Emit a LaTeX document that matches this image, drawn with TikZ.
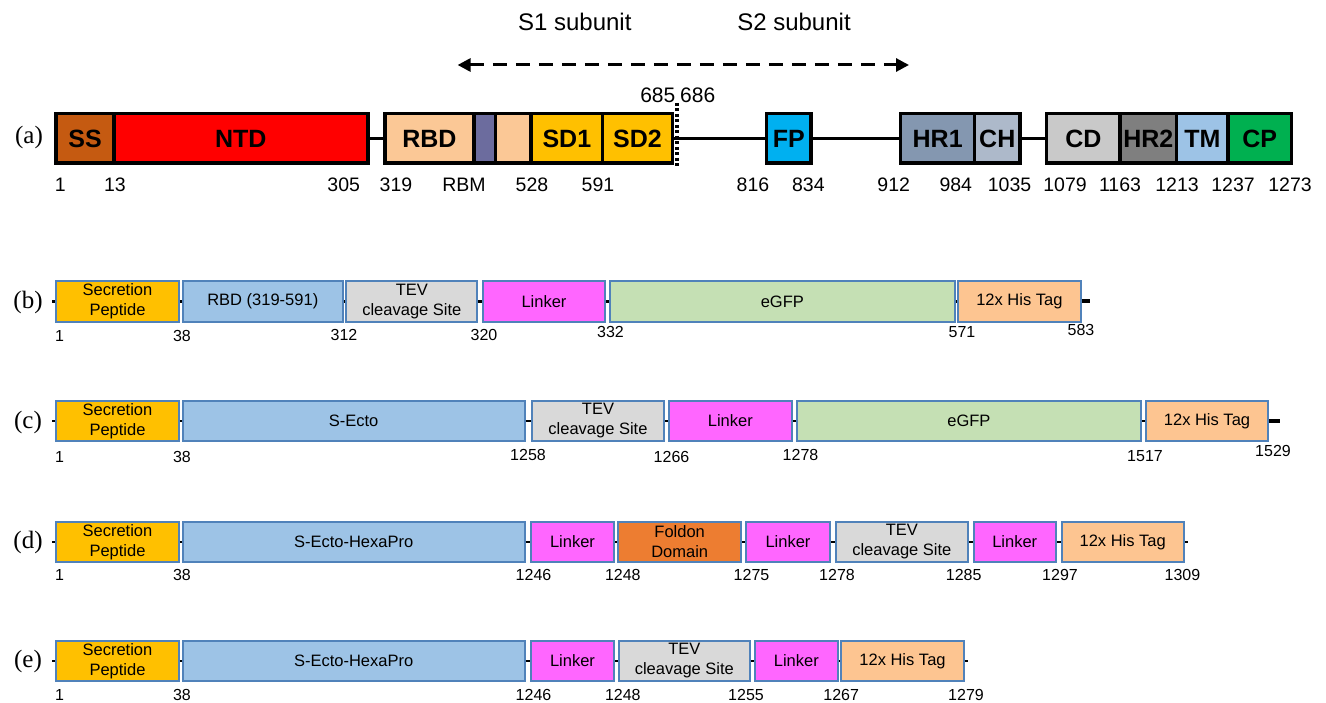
\documentclass[tikz,border=0pt]{standalone}
\usepackage{fontspec}
\setmainfont{Liberation Sans}
\newfontfamily\serifx{Liberation Serif}
\usetikzlibrary{arrows.meta}
\definecolor{cSS}{HTML}{C55A11}
\definecolor{cNTD}{HTML}{FF0000}
\definecolor{cRBD}{HTML}{FBC896}
\definecolor{cRBM}{HTML}{6C6C9E}
\definecolor{cSD}{HTML}{FFC000}
\definecolor{cFP}{HTML}{00B0F0}
\definecolor{cHRa}{HTML}{8497B0}
\definecolor{cCH}{HTML}{ADB9CA}
\definecolor{cCD}{HTML}{C9C9C9}
\definecolor{cHRb}{HTML}{7F7F7F}
\definecolor{cTM}{HTML}{9DC3E6}
\definecolor{cCP}{HTML}{00B050}
\definecolor{cSec}{HTML}{FFC000}
\definecolor{cEcto}{HTML}{9DC3E6}
\definecolor{cTEV}{HTML}{D9D9D9}
\definecolor{cLink}{HTML}{FF66FF}
\definecolor{cGFP}{HTML}{C5E0B4}
\definecolor{cHis}{HTML}{FDC591}
\definecolor{cFold}{HTML}{ED7D31}
\definecolor{cBord}{HTML}{5082BA}
\newcommand\dom[7]{\node[#6, minimum width={#3-#2}, minimum height={#5-#4}] (#1) at ({(#2+#3)/2},{(#4+#5)/2}) {#7};}
\newcommand\numl[4]{\node[numstyle] (#1) at (#2,#3) {#4};}
\newcommand\numa[4]{\node[numastyle] (#1) at (#2,#3) {#4};}
\begin{document}
\begin{tikzpicture}[x=1pt,y=-1pt,
  da/.style={draw=black,line width=3.5,inner sep=0pt,font=\fontsize{25}{26}\selectfont\bfseries},
  db/.style={draw=cBord,line width=2,inner sep=0pt,align=center,font=\fontsize{16.5}{20}\selectfont},
  conna/.style={draw=black,line width=3.5},
  connb/.style={draw=black,line width=2.5},
  stub/.style={draw=black,line width=4},
  dotline/.style={draw=black,line width=3.5,dash pattern=on 3pt off 2.5pt},
  dasharrow/.style={draw=black,line width=3,dash pattern=on 14pt off 9pt,{Triangle[length=13pt,width=13pt]}-{Triangle[length=13pt,width=13pt]}},
  numastyle/.style={inner sep=0pt,font=\fontsize{19.5}{20}\selectfont},
  numstyle/.style={inner sep=0pt,font=\fontsize{16}{17}\selectfont},
  rowlab/.style={inner sep=0pt,font=\serifx\fontsize{25}{26}\selectfont},
  sublab/.style={inner sep=0pt,font=\fontsize{24}{25}\selectfont}]
\useasboundingbox (0,0) rectangle (1326,703);
% ---------- row (a)
\node[rowlab] (la) at (29,137) {(a)};
\node[sublab] (s1) at (574.8,22) {S1 subunit};
\node[sublab] (s2) at (794,22) {S2 subunit};
\coordinate (al) at (457.6,65);
\coordinate (ar) at (909,65);
\draw[dasharrow] (al) -- (ar);
\dom{ss}{56.2}{113.8}{113.75}{163.25}{da,fill=cSS}{SS}
\dom{ntd}{113.8}{367.9}{113.75}{163.25}{da,fill=cNTD}{NTD}
\dom{rbd}{384.8}{474}{113.75}{163.25}{da,fill=cRBD}{RBD}
\dom{rbm}{474}{495.5}{113.75}{163.25}{da,fill=cRBM}{}
\dom{rbdb}{495.5}{531}{113.75}{163.25}{da,fill=cRBD}{}
\dom{sd1}{531}{602.7}{113.75}{163.25}{da,fill=cSD}{SD1}
\dom{sd2}{602.7}{672.3}{113.75}{163.25}{da,fill=cSD}{SD2}
\dom{fp}{766.5}{811}{113.75}{163.25}{da,fill=cFP}{FP}
\dom{hr1}{900.7}{974.6}{113.75}{163.25}{da,fill=cHRa}{HR1}
\dom{ch}{974.6}{1019.9}{113.75}{163.25}{da,fill=cCH}{CH}
\dom{cd}{1046.7}{1120}{113.75}{163.25}{da,fill=cCD}{CD}
\dom{hr2}{1120}{1176.7}{113.75}{163.25}{da,fill=cHRb}{HR2}
\dom{tm}{1176.7}{1228}{113.75}{163.25}{da,fill=cTM}{TM}
\dom{cp}{1228}{1291.3}{113.75}{163.25}{da,fill=cCP}{CP}
\draw[conna] (ntd.east) -- (rbd.west);
\draw[conna] (sd2.east) -- (fp.west);
\draw[conna] (fp.east) -- (hr1.west);
\draw[conna] (ch.east) -- (cd.west);
\coordinate (dt) at (677,103);
\coordinate (dbm) at (677,167);
\draw[dotline] (dt) -- (dbm);
\node[numastyle,anchor=east,font=\fontsize{21}{22}\selectfont] (n685) at (675.5,95) {685};
\node[numastyle,anchor=west,font=\fontsize{21}{22}\selectfont] (n686) at (680,95) {686};
\numa{na1}{60.3}{185}{1}
\numa{na2}{115}{185}{13}
\numa{na3}{343.7}{185}{305}
\numa{na4}{396}{185}{319}
\numa{na5}{464}{185}{RBM}
\numa{na6}{532}{185}{528}
\numa{na7}{598}{185}{591}
\numa{na8}{753}{185}{816}
\numa{na9}{808.4}{185}{834}
\numa{na10}{893.7}{185}{912}
\numa{na11}{955.8}{185}{984}
\numa{na12}{1009.5}{185}{1035}
\numa{na13}{1065}{185}{1079}
\numa{na14}{1120}{185}{1163}
\numa{na15}{1177}{185}{1213}
\numa{na16}{1233}{185}{1237}
\numa{na17}{1290}{185}{1273}
% ---------- row (b)
\node[rowlab] (lb) at (28,302) {(b)};
\dom{spb}{56.2}{178.8}{281}{322}{db,fill=cSec}{Secretion\\Peptide}
\dom{rbdb2}{182.8}{342.8}{281}{322}{db,fill=cEcto}{RBD (319-591)}
\dom{tevb}{346.3}{477.4}{281}{322}{db,fill=cTEV}{TEV\\cleavage Site}
\dom{lkb}{483}{605}{281}{322}{db,fill=cLink}{Linker}
\dom{gfpb}{609.8}{954.8}{281}{322}{db,fill=cGFP}{eGFP}
\dom{hisb}{958}{1080.8}{281}{322}{db,fill=cHis}{12x His Tag}
\coordinate (sb) at (52,301.5);
\coordinate (eb) at (1089.7,301.5);
\draw[connb] (sb) -- (spb.west);
\draw[connb] (spb.east) -- (rbdb2.west);
\draw[connb] (rbdb2.east) -- (tevb.west);
\draw[connb] (tevb.east) -- (lkb.west);
\draw[connb] (lkb.east) -- (gfpb.west);
\draw[connb] (gfpb.east) -- (hisb.west);
\draw[stub] (hisb.east) -- (eb);
\numl{nb1}{59.5}{336}{1}
\numl{nb2}{182}{336}{38}
\numl{nb3}{344}{334.5}{312}
\numl{nb4}{484}{335}{320}
\numl{nb5}{610.5}{331.5}{332}
\numl{nb6}{962}{332}{571}
\numl{nb7}{1081}{330}{583}
% ---------- row (c)
\node[rowlab] (lc) at (28,422) {(c)};
\dom{spc}{56.2}{178.8}{401}{441}{db,fill=cSec}{Secretion\\Peptide}
\dom{ectoc}{182.8}{524.5}{401}{441}{db,fill=cEcto}{S-Ecto}
\dom{tevc}{532}{664}{401}{441}{db,fill=cTEV}{TEV\\cleavage Site}
\dom{lkc}{668.6}{792}{401}{441}{db,fill=cLink}{Linker}
\dom{gfpc}{797}{1140.8}{401}{441}{db,fill=cGFP}{eGFP}
\dom{hisc}{1146}{1268}{401}{441}{db,fill=cHis}{12x His Tag}
\coordinate (sc) at (52,421);
\coordinate (ec) at (1279.5,421);
\draw[connb] (sc) -- (spc.west);
\draw[connb] (spc.east) -- (ectoc.west);
\draw[connb] (ectoc.east) -- (tevc.west);
\draw[connb] (tevc.east) -- (lkc.west);
\draw[connb] (lkc.east) -- (gfpc.west);
\draw[connb] (gfpc.east) -- (hisc.west);
\draw[stub] (hisc.east) -- (ec);
\numl{nc1}{59.5}{457}{1}
\numl{nc2}{182}{457}{38}
\numl{nc3}{528}{455}{1258}
\numl{nc4}{671.5}{457}{1266}
\numl{nc5}{800.5}{455}{1278}
\numl{nc6}{1145}{456}{1517}
\numl{nc7}{1273}{451}{1529}
% ---------- row (d)
\node[rowlab] (ld) at (28,542) {(d)};
\dom{spd}{56.2}{178.8}{522}{562}{db,fill=cSec}{Secretion\\Peptide}
\dom{ectod}{182.8}{524.5}{522}{562}{db,fill=cEcto}{S-Ecto-HexaPro}
\dom{lkd1}{531}{614}{522}{562}{db,fill=cLink}{Linker}
\dom{foldd}{618.4}{741}{522}{562}{db,fill=cFold}{Foldon\\Domain}
\dom{lkd2}{746}{830}{522}{562}{db,fill=cLink}{Linker}
\dom{tevd}{835.7}{968}{522}{562}{db,fill=cTEV}{TEV\\cleavage Site}
\dom{lkd3}{973.5}{1056}{522}{562}{db,fill=cLink}{Linker}
\dom{hisd}{1061.8}{1183.6}{522}{562}{db,fill=cHis}{12x His Tag}
\coordinate (sd) at (52,542);
\coordinate (ed) at (1188,542);
\draw[connb] (sd) -- (spd.west);
\draw[connb] (spd.east) -- (ectod.west);
\draw[connb] (ectod.east) -- (lkd1.west);
\draw[connb] (lkd1.east) -- (foldd.west);
\draw[connb] (foldd.east) -- (lkd2.west);
\draw[connb] (lkd2.east) -- (tevd.west);
\draw[connb] (tevd.east) -- (lkd3.west);
\draw[connb] (lkd3.east) -- (hisd.west);
\draw[connb] (hisd.east) -- (ed);
\numl{nd1}{59.5}{575}{1}
\numl{nd2}{182}{575}{38}
\numl{nd3}{533.5}{575}{1246}
\numl{nd4}{622.8}{575}{1248}
\numl{nd5}{751.5}{575}{1275}
\numl{nd6}{837}{575}{1278}
\numl{nd7}{963.7}{575}{1285}
\numl{nd8}{1060}{575}{1297}
\numl{nd9}{1182.4}{575}{1309}
% ---------- row (e)
\node[rowlab] (le) at (28,661) {(e)};
\dom{spe}{56.2}{178.8}{641}{681}{db,fill=cSec}{Secretion\\Peptide}
\dom{ectoe}{182.8}{524.5}{641}{681}{db,fill=cEcto}{S-Ecto-HexaPro}
\dom{lke1}{531}{614}{641}{681}{db,fill=cLink}{Linker}
\dom{teve}{619}{749.7}{641}{681}{db,fill=cTEV}{TEV\\cleavage Site}
\dom{lke2}{754.7}{838}{641}{681}{db,fill=cLink}{Linker}
\dom{hise}{841.4}{963.6}{641}{681}{db,fill=cHis}{12x His Tag}
\coordinate (se) at (52,661);
\coordinate (ee) at (968,661);
\draw[connb] (se) -- (spe.west);
\draw[connb] (spe.east) -- (ectoe.west);
\draw[connb] (ectoe.east) -- (lke1.west);
\draw[connb] (lke1.east) -- (teve.west);
\draw[connb] (teve.east) -- (lke2.west);
\draw[connb] (lke2.east) -- (hise.west);
\draw[connb] (hise.east) -- (ee);
\numl{ne1}{59.5}{695}{1}
\numl{ne2}{182}{695}{38}
\numl{ne3}{533.5}{695}{1246}
\numl{ne4}{622.8}{695}{1248}
\numl{ne5}{746}{695}{1255}
\numl{ne6}{841.2}{695}{1267}
\numl{ne7}{966}{695}{1279}
\end{tikzpicture}
\end{document}
